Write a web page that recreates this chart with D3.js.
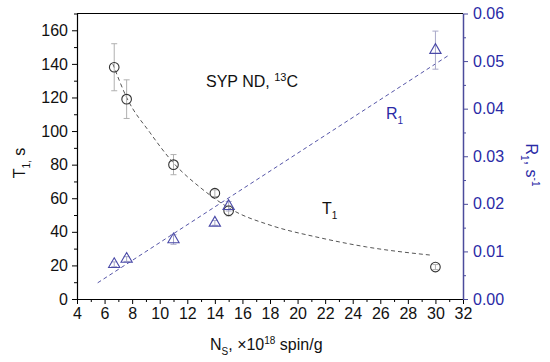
<!DOCTYPE html>
<html>
<head>
<meta charset="utf-8">
<script src="https://cdn.jsdelivr.net/npm/d3@7"></script>
<style>
  body { margin: 0; background: #fff; }
  svg text { font-family: "Liberation Sans", Arial, sans-serif; }
</style>
</head>
<body>
<div id="root"></div>
<script>
// measured points, N_S in 10^18 spin/g
const nsT1 = [6.7, 7.6, 11, 14, 15, 30];
const t1 = [138, 119, 80, 63, 52.5, 19];
const t1Err = [14, 11.5, 6, 2, 3, 1.5];

const nsR1 = [6.7, 7.6, 11, 14, 15, 30];
const r1 = [0.0073, 0.0084, 0.0125, 0.016, 0.0195, 0.0523];
const r1Err = [0.0005, 0.0005, 0.001, 0.0005, 0.001, 0.004];

// fit curves
const fitT1X = [6.6, 7.6, 9.3, 11, 13, 15.5, 18, 21.6, 25, 29.8];
const fitT1Y = [140, 120, 99, 81, 66, 52, 44, 36.5, 31, 26];
const fitR1X = [5.5, 30.9];
const fitR1Y = [0.0034, 0.0511];

// ticks
const xTicks = [4, 6, 8, 10, 12, 14, 16, 18, 20, 22, 24, 26, 28, 30, 32];
const yLeftTicks = [0, 20, 40, 60, 80, 100, 120, 140, 160];
const yRightTicks = [0, 0.01, 0.02, 0.03, 0.04, 0.05, 0.06];

const width = 550, height = 362;
const plotLeft = 77, plotRight = 463, plotTop = 13.5, plotBottom = 299;
const blue = '#2a2aa6', blueLine = '#4b4b9c';

const svg = d3.select('#root').append('svg')
  .attr('width', width)
  .attr('height', height)
  .attr('viewBox', [0, 0, width, height]);

const x = d3.scaleLinear().domain([4, 32]).range([plotLeft, plotRight]);
const yL = d3.scaleLinear().domain([0, 170]).range([plotBottom, plotTop]);
const yR = d3.scaleLinear().domain([0, 0.06]).range([plotBottom, plotTop]);

// top frame line
svg.append('line')
  .attr('x1', plotLeft).attr('x2', plotRight)
  .attr('y1', plotTop).attr('y2', plotTop)
  .attr('stroke', '#000').attr('stroke-width', 1.2);

// minor ticks first, then major axes
svg.append('g')
  .attr('transform', `translate(0,${plotBottom})`)
  .call(d3.axisBottom(x).tickValues(d3.range(5, 32, 2)).tickSize(3).tickFormat(''))
  .call(g => g.select('.domain').remove());
svg.append('g')
  .attr('transform', `translate(${plotLeft},0)`)
  .call(d3.axisLeft(yL).tickValues(d3.range(10, 171, 20)).tickSize(3).tickFormat(''))
  .call(g => g.select('.domain').remove());
svg.append('g')
  .attr('transform', `translate(${plotRight},0)`)
  .call(d3.axisRight(yR).tickValues(d3.range(0.005, 0.06, 0.01)).tickSize(3).tickFormat(''))
  .call(g => g.select('.domain').remove())
  .call(g => g.selectAll('line').attr('stroke', blueLine));

const xAxis = svg.append('g')
  .attr('transform', `translate(0,${plotBottom})`)
  .call(d3.axisBottom(x).tickValues(xTicks).tickSize(5).tickSizeOuter(0).tickPadding(4));
xAxis.selectAll('text').attr('font-size', 16).attr('fill', '#111');
xAxis.select('.domain').attr('stroke-width', 1.2);

const yAxisL = svg.append('g')
  .attr('transform', `translate(${plotLeft},0)`)
  .call(d3.axisLeft(yL).tickValues(yLeftTicks).tickSize(5).tickSizeOuter(0).tickPadding(4));
yAxisL.selectAll('text').attr('font-size', 16).attr('fill', '#111');
yAxisL.select('.domain').attr('stroke-width', 1.2);

const yAxisR = svg.append('g')
  .attr('transform', `translate(${plotRight},0)`)
  .call(d3.axisRight(yR).tickValues(yRightTicks).tickSize(5).tickSizeOuter(0).tickPadding(5)
    .tickFormat(d3.format('.2f')));
yAxisR.selectAll('text').attr('font-size', 16).attr('fill', blue);
yAxisR.selectAll('line').attr('stroke', blueLine);
yAxisR.select('.domain').attr('stroke', blueLine).attr('stroke-width', 1.5);

// fit lines
const t1Fit = fitT1X.map((d, i) => [d, fitT1Y[i]]);
svg.append('path')
  .attr('d', d3.line().x(d => x(d[0])).y(d => yL(d[1])).curve(d3.curveMonotoneX)(t1Fit))
  .attr('fill', 'none')
  .attr('stroke', '#555')
  .attr('stroke-width', 1)
  .attr('stroke-dasharray', '4,3');

const r1Fit = fitR1X.map((d, i) => [d, fitR1Y[i]]);
svg.append('path')
  .attr('d', d3.line().x(d => x(d[0])).y(d => yR(d[1]))(r1Fit))
  .attr('fill', 'none')
  .attr('stroke', '#5656a8')
  .attr('stroke-width', 1)
  .attr('stroke-dasharray', '4,3');

// error bars
function errorBars(xs, ys, errs, yScale, color) {
  const g = svg.append('g').attr('stroke', color).attr('stroke-width', 1);
  xs.forEach((xv, i) => {
    const cx = x(xv);
    const y1 = yScale(ys[i] + errs[i]);
    const y2 = yScale(ys[i] - errs[i]);
    g.append('line').attr('x1', cx).attr('x2', cx).attr('y1', y1).attr('y2', y2);
    g.append('line').attr('x1', cx - 3).attr('x2', cx + 3).attr('y1', y1).attr('y2', y1);
    g.append('line').attr('x1', cx - 3).attr('x2', cx + 3).attr('y1', y2).attr('y2', y2);
  });
}
errorBars(nsT1, t1, t1Err, yL, '#b0b0b0');
errorBars(nsR1, r1, r1Err, yR, '#a8a8c8');

// T1 circles
svg.append('g').selectAll('circle')
  .data(nsT1)
  .join('circle')
  .attr('cx', d => x(d))
  .attr('cy', (d, i) => yL(t1[i]))
  .attr('r', 4.8)
  .attr('fill', 'none')
  .attr('stroke', '#333')
  .attr('stroke-width', 1.1);

// R1 triangles
const tri = d3.symbol().type(d3.symbolTriangle).size(55);
svg.append('g').selectAll('path')
  .data(nsR1)
  .join('path')
  .attr('d', tri)
  .attr('transform', (d, i) => `translate(${x(d)},${yR(r1[i])})`)
  .attr('fill', 'none')
  .attr('stroke', '#4a4aa8')
  .attr('stroke-width', 1.1);

// labels
const syp = svg.append('text').attr('x', 206).attr('y', 87).attr('font-size', 16).attr('fill', '#111');
syp.append('tspan').text('SYP ND, ');
syp.append('tspan').attr('font-size', 11).attr('dy', -6).text('13');
syp.append('tspan').attr('dy', 6).text('C');

const t1Label = svg.append('text').attr('x', 322).attr('y', 214).attr('font-size', 16).attr('fill', '#111');
t1Label.append('tspan').text('T');
t1Label.append('tspan').attr('font-size', 10).attr('dy', 5).text('1');

const r1Label = svg.append('text').attr('x', 386).attr('y', 119).attr('font-size', 16).attr('fill', blue);
r1Label.append('tspan').text('R');
r1Label.append('tspan').attr('font-size', 10).attr('dy', 5).text('1');

// axis titles
const yTitle = svg.append('text')
  .attr('transform', 'translate(25,163) rotate(-90)')
  .attr('text-anchor', 'middle')
  .attr('font-size', 16).attr('fill', '#111');
yTitle.append('tspan').text('T');
yTitle.append('tspan').attr('font-size', 10).attr('dy', 5).text('1,');
yTitle.append('tspan').attr('dy', -5).text(' s');

const rTitle = svg.append('text')
  .attr('transform', 'translate(526,165) rotate(90)')
  .attr('text-anchor', 'middle')
  .attr('font-size', 16).attr('fill', blue);
rTitle.append('tspan').text('R');
rTitle.append('tspan').attr('font-size', 10).attr('dy', 5).text('1');
rTitle.append('tspan').attr('dy', -5).text(', s');
rTitle.append('tspan').attr('font-size', 10).attr('dy', -6).text('-1');

const xTitle = svg.append('text').attr('x', 210).attr('y', 350).attr('font-size', 16).attr('fill', '#111');
xTitle.append('tspan').text('N');
xTitle.append('tspan').attr('font-size', 10).attr('dy', 5).text('S');
xTitle.append('tspan').attr('dy', -5).text(', \u00d710');
xTitle.append('tspan').attr('font-size', 10).attr('dy', -6).text('18');
xTitle.append('tspan').attr('dy', 6).text(' spin/g');
</script>
</body>
</html>
